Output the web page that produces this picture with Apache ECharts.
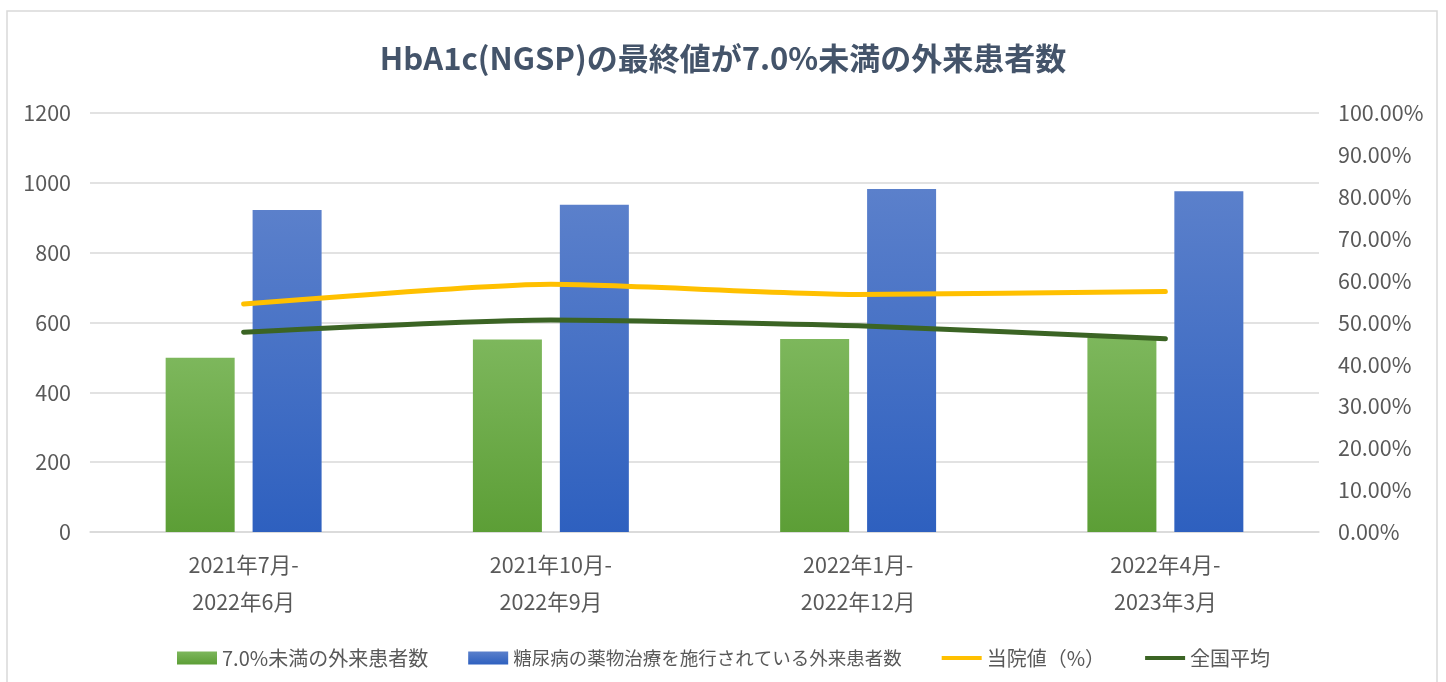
<!DOCTYPE html>
<html>
<head>
<meta charset="utf-8">
<script src="https://cdn.jsdelivr.net/npm/echarts@6/dist/echarts.min.js"></script>
<style>
html, body { margin: 0; padding: 0; background: #fff; }
#chart-panel { width: 1446px; height: 682px; }
</style>
</head>
<body>
<div id="chart-panel"></div>
<script>
// data
var periods = ['2021年7月-\n2022年6月', '2021年10月-\n2022年9月', '2022年1月-\n2022年12月', '2022年4月-\n2023年3月'];
var under7 = [499, 551, 553, 557];
var treated = [922, 937, 982, 976];
var hospitalRate = [54.4, 59.1, 56.7, 57.4];
var nationalAvg = [47.7, 50.6, 49.2, 46.1];
var leftTicks = { min: 0, max: 1200, interval: 200 };
var rightTicks = { min: 0, max: 100, interval: 10 };

var seriesNames = ['7.0%未満の外来患者数', '糖尿病の薬物治療を施行されている外来患者数', '当院値（%）', '全国平均'];
var font = '"Noto Sans CJK JP", "Noto Sans", sans-serif';
// thin bar icon for the line series in the legend (M points only set the box)
var lineIcon = 'path://M0,0 M40,13 M0,4.5 L40,4.5 L40,8.5 L0,8.5 Z';

function grad(top, bottom) {
    return new echarts.graphic.LinearGradient(0, 0, 0, 1, [
        {offset: 0, color: top},
        {offset: 1, color: bottom}
    ]);
}

var myChart = echarts.init(document.getElementById('chart-panel'));
var option = {
    backgroundColor: '#fff',
    textStyle: { fontFamily: font },
    graphic: [{
        type: 'rect',
        shape: { x: 7, y: 11, width: 1430, height: 700 },
        style: { fill: 'none', stroke: '#d9d9d9', lineWidth: 1.5 },
        silent: true
    }],
    title: {
        text: 'HbA1c(NGSP)の最終値が7.0%未満の外来患者数',
        left: 'center',
        top: 38,
        textStyle: { fontFamily: font, fontSize: 31, fontWeight: 'bold', color: '#44546a' }
    },
    legend: {
        left: 172,
        top: 643,
        itemWidth: 40,
        itemHeight: 13,
        itemGap: 40,
        textStyle: { fontFamily: font, fontSize: 20, color: '#595959' },
        data: [
            { name: seriesNames[0], icon: 'rect' },
            { name: seriesNames[1], icon: 'rect', textStyle: { fontSize: 18.5 } },
            { name: seriesNames[2], icon: lineIcon },
            { name: seriesNames[3], icon: lineIcon }
        ]
    },
    grid: { left: 90, right: 127, top: 113, bottom: 150 },
    xAxis: [{
        type: 'category',
        data: periods,
        axisLine: { lineStyle: { color: '#d9d9d9', width: 1.5 } },
        axisTick: { show: false },
        axisLabel: { fontSize: 21.5, color: '#595959', lineHeight: 37, margin: 14 }
    }],
    yAxis: [
        {
            type: 'value',
            min: leftTicks.min,
            max: leftTicks.max,
            interval: leftTicks.interval,
            axisLine: { show: false },
            axisTick: { show: false },
            splitLine: { lineStyle: { color: '#d9d9d9', width: 1.5 } },
            axisLabel: {
                fontSize: 21.5, color: '#595959', margin: 19,
                formatter: function (v) { return String(v); }
            }
        },
        {
            type: 'value',
            min: rightTicks.min,
            max: rightTicks.max,
            interval: rightTicks.interval,
            axisLine: { show: false },
            axisTick: { show: false },
            splitLine: { show: false },
            axisLabel: {
                fontSize: 21.5, color: '#595959', margin: 19,
                formatter: function (v) { return v.toFixed(2) + '%'; }
            }
        }
    ],
    series: [
        {
            name: seriesNames[0],
            type: 'bar',
            yAxisIndex: 0,
            barWidth: 69,
            barGap: '26%',
            itemStyle: { color: grad('#7db75c', '#5c9e36') },
            data: under7
        },
        {
            name: seriesNames[1],
            type: 'bar',
            yAxisIndex: 0,
            barWidth: 69,
            barGap: '26%',
            itemStyle: { color: grad('#5b80cb', '#2e60bf') },
            data: treated
        },
        {
            name: seriesNames[2],
            type: 'line',
            yAxisIndex: 1,
            smooth: 0.2,
            symbol: 'none',
            lineStyle: { color: '#ffc000', width: 5, cap: 'round' },
            itemStyle: { color: '#ffc000' },
            data: hospitalRate
        },
        {
            name: seriesNames[3],
            type: 'line',
            yAxisIndex: 1,
            smooth: 0.2,
            symbol: 'none',
            lineStyle: { color: '#3b6424', width: 5, cap: 'round' },
            itemStyle: { color: '#3b6424' },
            data: nationalAvg
        }
    ]
};
myChart.setOption(option);
</script>
</body>
</html>
